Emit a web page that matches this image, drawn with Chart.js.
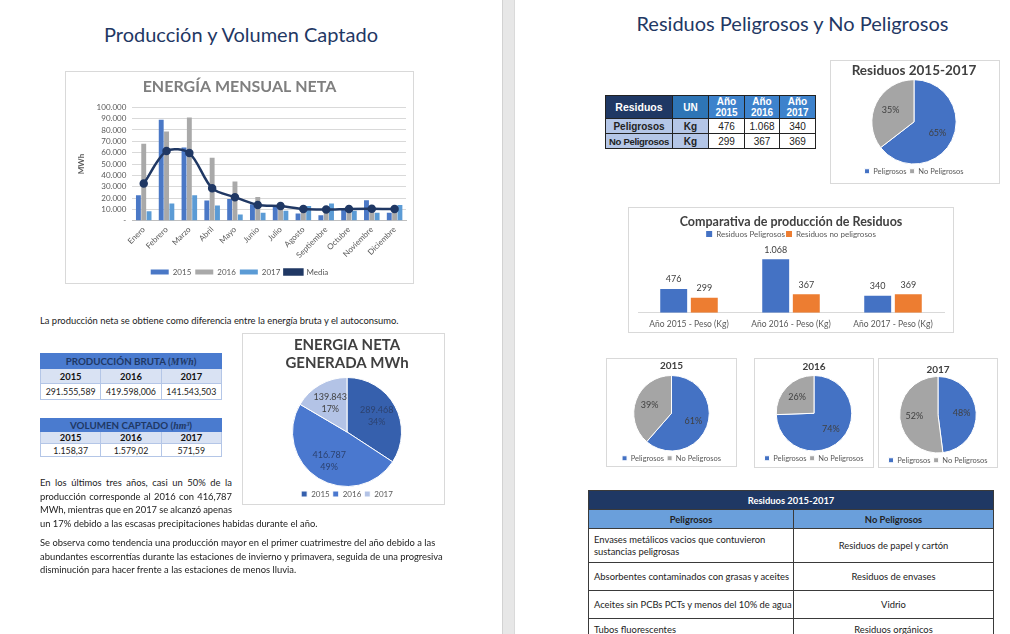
<!DOCTYPE html>
<html>
<head>
<meta charset="utf-8">
<script src="https://cdn.jsdelivr.net/npm/chart.js@4.4.1/dist/chart.umd.min.js"></script>
<style>
  body { margin:0; width:1010px; height:634px; overflow:hidden; position:relative; background:#fff; font-family:Lato, "Open Sans", sans-serif; color:#222; }
  .abs { position:absolute; }
  .gap { left:502px; top:0; width:13px; height:634px; background:#e7e7e7; border-left:1px solid #d2d2d2; border-right:1px solid #dadada; box-sizing:border-box; }
  .ptitle { color:#1f3864; font-size:20px; font-weight:400; text-align:center; white-space:nowrap; }
  .box { border:1px solid #d9d9d9; box-sizing:border-box; background:#fff; }
  .txt { font-size:9.4px; line-height:13.6px; white-space:nowrap; }
  .fj { width:192px; display:flex; justify-content:space-between; font-size:9.4px; line-height:13.6px; white-space:nowrap; }
  table { border-collapse:collapse; table-layout:fixed; }
  .tl td { border:1px solid #b4c6e7; text-align:center; padding:0; font-size:8.8px; white-space:nowrap; }
  .tl .h td { background:#4a7bcf; color:#1f3864; font-weight:bold; border-color:#4a7bcf; font-size:9.8px; }
  .tl .y td { background:#d9e2f3; font-weight:bold; color:#111; font-size:9.4px; }
  .tr td { border:1px solid #222; text-align:center; padding:0; font-family:"Liberation Sans", Arial, sans-serif; font-size:10px; white-space:nowrap; }
  .tb td { border:1px solid #3a3a3a; padding:0 5px; font-size:9.4px; color:#222; white-space:nowrap; }
</style>
</head>
<body>
<div class="abs gap"></div>

<!-- left page -->
<div class="abs ptitle" style="left:0;width:482px;top:22px;">Producción y Volumen Captado</div>
<div class="abs box" style="left:65px;top:71px;width:349px;height:213px;"></div>
<div class="abs" style="left:65px;top:71px;width:349px;height:215px;"><canvas id="energia"></canvas></div>

<div class="abs txt" style="left:40px;top:314px;">La producción neta se obtiene como diferencia entre la energía bruta y el autoconsumo.</div>

<table class="abs tl" style="left:40px;top:353px;width:182px;">
  <tr class="h" style="height:15px"><td colspan="3">PRODUCCIÓN BRUTA (<i style="font-family:'Liberation Serif',serif">MWh</i>)</td></tr>
  <tr class="y" style="height:15px"><td>2015</td><td>2016</td><td>2017</td></tr>
  <tr style="height:16px"><td>291.555,589</td><td>419.598,006</td><td>141.543,503</td></tr>
</table>
<table class="abs tl" style="left:40px;top:418px;width:182px;">
  <tr class="h" style="height:12px"><td colspan="3">VOLUMEN CAPTADO (<i style="font-family:'Liberation Serif',serif">hm³</i>)</td></tr>
  <tr class="y" style="height:12px"><td>2015</td><td>2016</td><td>2017</td></tr>
  <tr style="height:13px"><td>1.158,37</td><td>1.579,02</td><td>571,59</td></tr>
</table>

<div class="abs box" style="left:242px;top:333px;width:203px;height:172px;"></div>
<div class="abs" style="left:245px;top:333px;width:204px;height:175px;"><canvas id="neta"></canvas></div>

<div class="abs fj" style="left:40px;top:476px;">En los últimos tres años, casi un 50% de la</div>
<div class="abs fj" style="left:40px;top:489.6px;">producción corresponde al 2016 con 416,787</div>
<div class="abs fj" style="left:40px;top:503.2px;">MWh, mientras que en 2017 se alcanzó apenas</div>
<div class="abs txt" style="left:40px;top:516.8px;">un 17% debido a las escasas precipitaciones habidas durante el año.</div>
<div class="abs txt" style="left:40px;top:536px;">Se observa como tendencia una producción mayor en el primer cuatrimestre del año debido a las<br>abundantes escorrentías durante las estaciones de invierno y primavera, seguida de una progresiva<br>disminución para hacer frente a las estaciones de menos lluvia.</div>

<!-- right page -->
<div class="abs ptitle" style="left:515px;width:555px;top:11px;">Residuos Peligrosos y No Peligrosos</div>

<table class="abs tr" style="left:605px;top:95px;width:210px;">
  <colgroup><col style="width:67px"><col style="width:36px"><col style="width:36px"><col style="width:35px"><col style="width:36px"></colgroup>
  <tr style="height:23px;color:#fff;font-weight:bold;">
    <td style="background:#1f3864;font-size:10.5px;">Residuos</td>
    <td style="background:#2e75b6;">UN</td>
    <td style="background:#3d82cc;line-height:11px;">Año<br>2015</td>
    <td style="background:#3d82cc;line-height:11px;">Año<br>2016</td>
    <td style="background:#3d82cc;line-height:11px;">Año<br>2017</td>
  </tr>
  <tr style="height:15px;"><td style="background:#b4c6e7;font-weight:bold;">Peligrosos</td><td style="background:#b4c6e7;font-weight:bold;">Kg</td><td>476</td><td>1.068</td><td>340</td></tr>
  <tr style="height:15px;"><td style="background:#b4c6e7;font-weight:bold;font-size:9.5px;letter-spacing:-0.3px;">No Peligrosos</td><td style="background:#b4c6e7;font-weight:bold;">Kg</td><td>299</td><td>367</td><td>369</td></tr>
</table>

<div class="abs box" style="left:830px;top:60px;width:170px;height:124px;"></div>
<div class="abs" style="left:835px;top:60px;width:158px;height:125px;"><canvas id="resTotal"></canvas></div>

<div class="abs box" style="left:628px;top:207px;width:326px;height:126px;"></div>
<div class="abs" style="left:628px;top:211px;width:326px;height:126px;"><canvas id="comparativa"></canvas></div>

<div class="abs box" style="left:606px;top:358px;width:131px;height:109px;"></div>
<div class="abs" style="left:606px;top:358px;width:131px;height:114px;"><canvas id="pie2015"></canvas></div>
<div class="abs box" style="left:754px;top:358px;width:120px;height:110px;"></div>
<div class="abs" style="left:754px;top:358px;width:120px;height:114px;"><canvas id="pie2016"></canvas></div>
<div class="abs box" style="left:878px;top:358px;width:120px;height:110px;"></div>
<div class="abs" style="left:878px;top:358px;width:120px;height:116px;"><canvas id="pie2017"></canvas></div>

<table class="abs tb" style="left:588px;top:490px;width:405px;">
  <colgroup><col style="width:205px"><col style="width:200px"></colgroup>
  <tr style="height:19px;"><td colspan="2" style="background:#1f3864;color:#fff;font-weight:bold;text-align:center;">Residuos 2015-2017</td></tr>
  <tr style="height:19px;background:#6a9fdb;color:#1f3864;font-weight:bold;text-align:center;"><td>Peligrosos</td><td>No Peligrosos</td></tr>
  <tr style="height:34px;"><td style="line-height:12px;">Envases metálicos vacios que contuvieron<br>sustancias peligrosas</td><td style="text-align:center;">Residuos de papel y cartón</td></tr>
  <tr style="height:28px;"><td>Absorbentes contaminados con grasas y aceites</td><td style="text-align:center;">Residuos de envases</td></tr>
  <tr style="height:28px;"><td>Aceites sin PCBs PCTs y menos del 10% de agua</td><td style="text-align:center;">Vidrio</td></tr>
  <tr style="height:22px;"><td>Tubos fluorescentes</td><td style="text-align:center;">Residuos orgánicos</td></tr>
</table>

<script>
// energía mensual neta (MWh)
const meses = ['Enero', 'Febrero', 'Marzo', 'Abril', 'Mayo', 'Junio', 'Julio', 'Agosto', 'Septiembre', 'Octubre', 'Noviembre', 'Diciembre'];
const energia2015 = [22600, 89000, 64500, 17800, 19300, 14500, 13000, 6500, 5000, 11000, 18000, 7000];
const energia2016 = [67800, 78600, 91000, 55400, 34600, 21000, 14500, 9000, 9000, 10000, 13000, 12000];
const energia2017 = [8500, 15200, 22500, 13400, 5500, 7000, 8800, 13000, 15200, 8800, 7000, 14000];
const energiaMedia = [32800, 61400, 59600, 28600, 20800, 14000, 13000, 10300, 9900, 10500, 10700, 10300];
const energiaTicks = [0, 10000, 20000, 30000, 40000, 50000, 60000, 70000, 80000, 90000, 100000];

// energía neta generada por año (MWh)
const anios = ['2015', '2016', '2017'];
const netaAnual = [289468, 416787, 139843];

// residuos (Kg)
const tiposResiduo = ['Peligrosos', 'No Peligrosos'];
const peligrosos = [476, 1068, 340];
const noPeligrosos = [299, 367, 369];
const residuosTotal = [1884, 1035];
const categoriasComp = ['Año 2015 - Peso (Kg)', 'Año 2016 - Peso (Kg)', 'Año 2017 - Peso (Kg)'];

// justified lines: spread the words over the line width
document.querySelectorAll('.fj').forEach(el => {
  el.innerHTML = el.textContent.trim().split(/\s+/).map(w => '<span>' + w + '</span>').join('');
});

const FONT = 'Lato, "Open Sans", sans-serif';
Chart.defaults.font.family = FONT;
Chart.defaults.color = '#595959';
Chart.defaults.animation = false;
Chart.defaults.responsive = true;
Chart.defaults.maintainAspectRatio = false;
Chart.defaults.plugins.tooltip.enabled = false;

function miles(v) {
  return String(v).replace(/\B(?=(\d{3})+(?!\d))/g, '.');
}

// labels inside pie slices
const pieLabels = {
  id: 'pieLabels',
  afterDatasetsDraw(chart, args, opts) {
    const ctx = chart.ctx;
    const meta = chart.getDatasetMeta(0);
    const data = chart.data.datasets[0].data;
    const total = data.reduce((a, b) => a + b, 0);
    ctx.save();
    ctx.font = (opts.size || 9) + 'px ' + FONT;
    ctx.textAlign = 'center';
    ctx.textBaseline = 'middle';
    meta.data.forEach((arc, i) => {
      const mid = (arc.startAngle + arc.endAngle) / 2;
      const r = arc.outerRadius * (opts.dist || 0.62);
      const x = arc.x + Math.cos(mid) * r;
      const y = arc.y + Math.sin(mid) * r;
      const pct = Math.round(data[i] / total * 100) + '%';
      ctx.fillStyle = (opts.colors && opts.colors[i]) || '#404040';
      if (opts.showValue) {
        ctx.fillText(miles(data[i]), x, y - 6);
        ctx.fillText(pct, x, y + 6);
      } else {
        ctx.fillText(pct, x, y);
      }
    });
    ctx.restore();
  }
};

// labels above bars
const barLabels = {
  id: 'barLabels',
  afterDatasetsDraw(chart) {
    const ctx = chart.ctx;
    ctx.save();
    ctx.font = '9px ' + FONT;
    ctx.fillStyle = '#404040';
    ctx.textAlign = 'center';
    ctx.textBaseline = 'bottom';
    chart.data.datasets.forEach((ds, di) => {
      chart.getDatasetMeta(di).data.forEach((bar, i) => {
        ctx.fillText(miles(ds.data[i]), bar.x, bar.y - 5);
      });
    });
    ctx.restore();
  }
};

new Chart(document.getElementById('energia'), {
  data: {
    labels: meses,
    datasets: [
      { type: 'bar', label: '2015', data: energia2015, backgroundColor: '#4a78c6', order: 1 },
      { type: 'bar', label: '2016', data: energia2016, backgroundColor: '#a9a9a9', order: 1 },
      { type: 'bar', label: '2017', data: energia2017, backgroundColor: '#5b9bd5', order: 1 },
      { type: 'line', label: 'Media', data: energiaMedia, borderColor: '#203864', backgroundColor: '#203864',
        borderWidth: 2.5, pointRadius: 3, tension: 0.3, order: 0 }
    ]
  },
  options: {
    layout: { padding: { left: 8, right: 8, bottom: 0 } },
    datasets: { bar: { categoryPercentage: 0.7, barPercentage: 0.92 } },
    plugins: {
      title: { display: true, text: 'ENERGÍA MENSUAL NETA', color: '#7f7f7f',
        font: { size: 16, weight: 'bold' }, padding: { top: 6, bottom: 11 } },
      legend: { position: 'bottom', labels: { boxWidth: 18, boxHeight: 5, font: { size: 8 }, padding: 4,
        sort: (a, b) => a.datasetIndex - b.datasetIndex } }
    },
    scales: {
      x: { grid: { display: false, drawTicks: false }, border: { color: '#bfbfbf' },
        ticks: { font: { size: 8 }, maxRotation: 45, minRotation: 45, padding: 4 } },
      y: { min: 0, max: 100000, border: { display: false }, grid: { color: '#d9d9d9', drawTicks: false },
        afterBuildTicks: axis => { axis.ticks = energiaTicks.map(v => ({ value: v })); },
        title: { display: true, text: 'MWh', font: { size: 8, weight: 'bold' }, padding: 4 },
        ticks: { autoSkip: false, font: { size: 8 }, padding: 6, callback: v => v === 0 ? '-' : miles(v) } }
    }
  }
});

new Chart(document.getElementById('neta'), {
  type: 'pie',
  data: {
    labels: anios,
    datasets: [{ data: netaAnual, backgroundColor: ['#3660ad', '#4a78cf', '#b3c3e6'], borderColor: '#ffffff',
      borderWidth: 1, hoverOffset: 0 }]
  },
  options: {
    plugins: {
      title: { display: true, text: ['ENERGIA NETA', 'GENERADA MWh'], color: '#404040',
        font: { size: 15, weight: 'bold', lineHeight: 1.2 }, padding: { top: 3, bottom: 5 } },
      legend: { position: 'bottom', labels: { boxWidth: 6, boxHeight: 6, font: { size: 8 }, padding: 3 } },
      pieLabels: { showValue: true, dist: 0.62, size: 9, colors: ['#2c4270', '#2c4270', '#404040'] }
    }
  },
  plugins: [pieLabels]
});

function residuosPie(id, titulo, valores, titleSize, titlePad) {
  new Chart(document.getElementById(id), {
    type: 'pie',
    data: {
      labels: tiposResiduo,
      datasets: [{ data: valores, backgroundColor: ['#4472c4', '#a5a5a5'], borderColor: '#ffffff',
        borderWidth: 1, hoverOffset: 0 }]
    },
    options: {
      plugins: {
        title: { display: true, text: titulo, color: '#404040', font: { size: titleSize, weight: 'bold', lineHeight: 1.2 },
          padding: titlePad },
        legend: { position: 'bottom', labels: { boxWidth: 5, boxHeight: 5, font: { size: 7.5 }, padding: 3 } },
        pieLabels: { dist: 0.62, size: 9, colors: ['#404040', '#404040'] }
      }
    },
    plugins: [pieLabels]
  });
}

residuosPie('resTotal', 'Residuos 2015-2017', residuosTotal, 13.5, { top: 3, bottom: 0 });
residuosPie('pie2015', '2015', [peligrosos[0], noPeligrosos[0]], 10, { top: 2, bottom: 3 });
residuosPie('pie2016', '2016', [peligrosos[1], noPeligrosos[1]], 10, { top: 3, bottom: 2 });
residuosPie('pie2017', '2017', [peligrosos[2], noPeligrosos[2]], 10, { top: 6, bottom: 0 });

new Chart(document.getElementById('comparativa'), {
  type: 'bar',
  data: {
    labels: categoriasComp,
    datasets: [
      { label: 'Residuos Peligrosos', data: peligrosos, backgroundColor: '#4472c4' },
      { label: 'Residuos no peligrosos', data: noPeligrosos, backgroundColor: '#ed7d31' }
    ]
  },
  options: {
    layout: { padding: { left: 10, right: 10, bottom: 2 } },
    datasets: { bar: { categoryPercentage: 0.6, barPercentage: 0.88 } },
    plugins: {
      title: { display: true, text: 'Comparativa de producción de Residuos', color: '#404040',
        font: { size: 12.5, weight: 'bold' }, padding: { top: 3, bottom: 0 } },
      legend: { position: 'top', labels: { boxWidth: 6, boxHeight: 6, font: { size: 8 }, padding: 1 } }
    },
    scales: {
      x: { grid: { display: false, drawTicks: false }, border: { color: '#d9d9d9' }, ticks: { font: { size: 8.5 }, padding: 6 } },
      y: { display: false, min: 0, max: 1290 }
    }
  },
  plugins: [barLabels]
});
</script>
</body>
</html>
